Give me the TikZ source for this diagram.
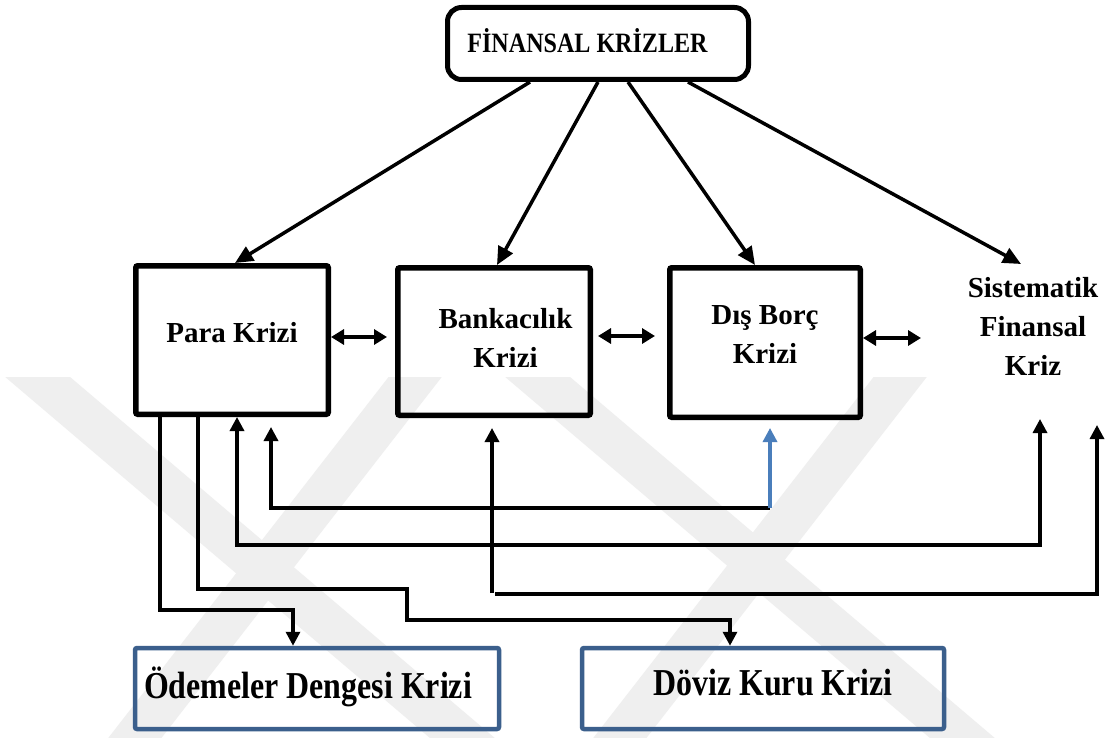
\documentclass[tikz,border=0pt]{standalone}
\usepackage{fontspec}
\usepackage{graphicx}
\setmainfont{Liberation Serif}
\usetikzlibrary{arrows.meta,calc}
\definecolor{boxblue}{HTML}{3B5F8C}
\definecolor{arrblue}{HTML}{4A7EBB}
\definecolor{wm}{HTML}{EFEFEF}
\begin{document}
\begin{tikzpicture}[x=1pt,y=-1pt,
  bbox/.style={draw=black, line width=5.5pt, rounded corners=2pt, inner sep=0pt},
  rbox/.style={draw=black, line width=5pt, rounded corners=14pt, inner sep=0pt},
  gbox/.style={draw=boxblue, line width=4.5pt, rounded corners=2pt, inner sep=0pt},
  txt/.style={inner sep=0pt, anchor=base, font=\bfseries\fontsize{29}{35}\selectfont},
  bigtxt/.style={inner sep=0pt, anchor=base, font=\bfseries\fontsize{38}{40}\selectfont},
  tarr/.style={line width=3.5pt, -{Triangle[length=18pt,width=16pt]}},
  conn/.style={line width=3.3pt, -{Triangle[length=14pt,width=14pt]}},
  dbl/.style={line width=3.3pt, {Triangle[length=13pt,width=15pt]}-{Triangle[length=13pt,width=15pt]}},
  dblc/.style={line width=3.3pt, {Triangle[length=14pt,width=14pt]}-{Triangle[length=14pt,width=14pt]}},
  wmband/.style={draw=wm, line width=42pt}
]
\fill[white] (0,0) rectangle (1111,738);
\useasboundingbox (0,0) rectangle (1111,738);

% faint background watermark
\begin{scope}
\clip (0,377) rectangle (1111,738);
\draw[wmband] (0,345) -- (500,770);
\draw[wmband] (440,345) -- (110,770);
\draw[wmband] (500,345) -- (1000,770);
\draw[wmband] (925,345) -- (595,770);
\end{scope}

% boxes
\node[rbox, minimum width=301pt, minimum height=72pt] (top) at (598,43.5) {};
\node[bbox, minimum width=192.5pt, minimum height=148.5pt] (para) at (232,340) {};
\node[bbox, minimum width=192.5pt, minimum height=147.5pt] (bank) at (494,341.5) {};
\node[bbox, minimum width=190.5pt, minimum height=149.5pt] (dis) at (765,342.5) {};
\node[gbox, minimum width=364pt, minimum height=81pt] (ode) at (317,688.5) {};
\node[gbox, minimum width=362pt, minimum height=81pt] (dov) at (763,688.5) {};

% texts
\node[txt, font=\bfseries\fontsize{28}{30}\selectfont] (topT) at (587.5,52.5) {\scalebox{0.86}[1]{FİNANSAL KRİZLER}};
\node[txt] (paraT) at (232,342) {Para Krizi};
\node[txt] (bank1) at (505.5,328) {Bankacılık};
\node[txt] (bank2) at (505.5,367) {Krizi};
\node[txt] (dis1) at (765,324) {Dış Borç};
\node[txt] (dis2) at (765,363) {Krizi};
\node[txt] (sys1) at (1033,297) {Sistematik};
\node[txt] (sys2) at (1033,336) {Finansal};
\node[txt] (sys3) at (1033,375) {Kriz};
\node[bigtxt] (odeT) at (308,698) {\scalebox{0.84}[1]{Ödemeler Dengesi Krizi}};
\node[bigtxt] (dovT) at (773,695) {\scalebox{0.84}[1]{Döviz Kuru Krizi}};

% free ends
\coordinate (sysT) at (1021,264);
\coordinate (sysL) at (921,338);
\coordinate (sysB1) at (1040,419);
\coordinate (sysB2) at (1097,425);
\coordinate (j) at (770,508);
\coordinate (bk) at (492,593);
\coordinate (bk2) at (495,594);

% arrows from top
\draw[tarr] (top.south -| 530,0) -- ([xshift=3pt]para.north);
\draw[tarr] (top.south -| 598,0) -- (bank.north -| 497,0);
\draw[tarr] (top.south -| 628,0) -- (dis.north -| 755,0);
\draw[tarr] (top.south -| 688,0) -- (sysT);

% double arrows
\draw[dbl] (para.east |- 0,337) -- ($(bank.west |- 0,337)+(-8,0)$);
\draw[dbl] ($(bank.east |- 0,336)+(5,0)$) -- ($(dis.west |- 0,336)+(-12,0)$);
\draw[dbl] (dis.east |- 0,338) -- (sysL);

% lower connectors
\draw[conn] (para.south -| 160,0) -- (160,610) -| (ode.north -| 293,0);
\draw[conn] (para.south -| 198,0) -- (198,589) -- (407,589) -- (407,620) -| (dov.north -| 730,0);
\draw[dblc] (para.south -| 237,0) -- (237,545) -| (sysB1);
\draw[conn] (j) -| ($(para.south -| 271,0)+(0,10)$);
\draw[conn, draw=arrblue, fill=arrblue] (j) -- ($(dis.south -| 770,0)+(0,8)$);
\draw[conn] (bk) -- ($(bank.south -| 492,0)+(0,10)$);
\draw[conn] (bk2) -| (sysB2);
\end{tikzpicture}
\end{document}
